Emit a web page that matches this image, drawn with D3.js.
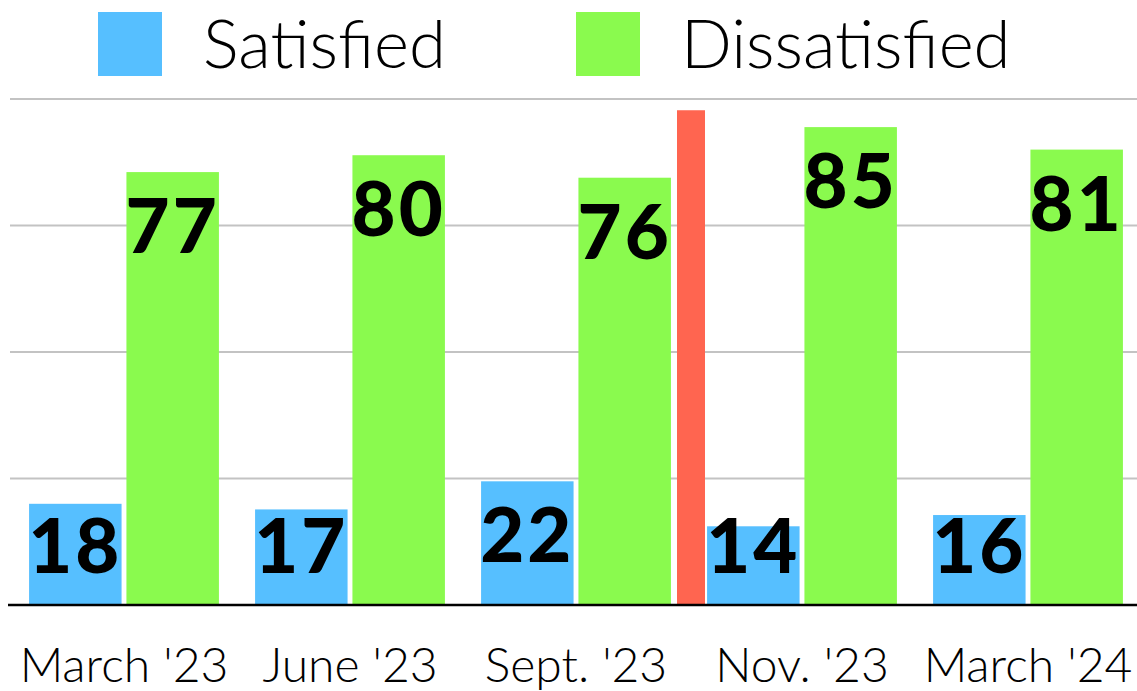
<!DOCTYPE html>
<html>
<head>
<meta charset="utf-8">
<script src="https://cdn.jsdelivr.net/npm/d3@7"></script>
<style>
  html, body { margin: 0; padding: 0; background: #fff; }
  svg { display: block; font-family: Lato, "Noto Sans", sans-serif; }
</style>
</head>
<body>
<svg id="chart" width="1137" height="691"></svg>
<script>
const periods = ["March '23", "June '23", "Sept. '23", "Nov. '23", "March '24"];
const satisfied = [18, 17, 22, 14, 16];
const dissatisfied = [77, 80, 76, 85, 81];
const seriesNames = ["Satisfied", "Dissatisfied"];
const seriesColors = ["#56bfff", "#8afa4e"];
const gridTicks = [0, 22.5, 45, 67.5, 90];
// red divider between Sept. '23 and Nov. '23
const markerAfter = "Sept. '23";
const markerValue = 88;

const width = 1137, height = 691;
const baseY = 605, topY = 99;
const svg = d3.select("#chart");

const x = d3.scaleBand()
  .domain(periods)
  .range([11, 1141])
  .paddingInner(0.16)
  .paddingOuter(0.08);

const xSub = d3.scaleBand()
  .domain(seriesNames)
  .range([0, x.bandwidth()])
  .paddingInner(0.05);

const y = d3.scaleLinear()
  .domain([0, 90])
  .range([baseY, topY]);

// gridlines
svg.append("g")
  .selectAll("line")
  .data(gridTicks.filter(d => d > 0))
  .enter()
  .append("line")
  .attr("x1", 10)
  .attr("x2", width)
  .attr("y1", d => y(d))
  .attr("y2", d => y(d))
  .attr("stroke", "#c3c3c3")
  .attr("stroke-width", 2);

const rows = periods.map((p, i) => ({ period: p, values: [satisfied[i], dissatisfied[i]] }));

const groups = svg.append("g")
  .selectAll("g")
  .data(rows)
  .enter()
  .append("g")
  .attr("transform", d => `translate(${x(d.period)},0)`);

groups.selectAll("rect")
  .data(d => d.values.map((v, k) => ({ name: seriesNames[k], value: v, k })))
  .enter()
  .append("rect")
  .attr("x", d => xSub(d.name))
  .attr("y", d => y(d.value))
  .attr("width", xSub.bandwidth())
  .attr("height", d => baseY - y(d.value))
  .attr("fill", d => seriesColors[d.k]);

// value labels, pinned inside the bar top but not below a floor
groups.selectAll("text")
  .data(d => d.values.map((v, k) => ({ name: seriesNames[k], value: v })))
  .enter()
  .append("text")
  .attr("x", d => xSub(d.name) + xSub.bandwidth() / 2)
  .attr("y", d => Math.min(y(d.value) + 81, baseY - 32))
  .attr("text-anchor", "middle")
  .attr("font-size", 76)
  .attr("font-weight", 900)
  .attr("letter-spacing", 3)
  .attr("fill", "#000")
  .text(d => d.value);

// red divider
const idx = periods.indexOf(markerAfter);
const mx = (x(periods[idx]) + x.bandwidth() + x(periods[idx + 1])) / 2 + 2;
svg.append("rect")
  .attr("x", mx - 14)
  .attr("y", y(markerValue))
  .attr("width", 28)
  .attr("height", baseY - y(markerValue) + 1)
  .attr("fill", "#ff6550");

// baseline
svg.append("line")
  .attr("x1", 8)
  .attr("x2", width)
  .attr("y1", baseY)
  .attr("y2", baseY)
  .attr("stroke", "#000")
  .attr("stroke-width", 2.5);

// x axis labels
svg.append("g")
  .selectAll("text")
  .data(periods)
  .enter()
  .append("text")
  .attr("x", d => x(d) + x.bandwidth() / 2)
  .attr("y", 682)
  .attr("text-anchor", "middle")
  .attr("font-size", 48)
  .attr("font-weight", 300)
  .attr("fill", "#000")
  .text(d => d);

// legend
const legendX = [98, 576];
const legend = svg.append("g")
  .selectAll("g")
  .data(seriesNames)
  .enter()
  .append("g")
  .attr("transform", (d, i) => `translate(${legendX[i]},12)`);

legend.append("rect")
  .attr("width", 64)
  .attr("height", 64)
  .attr("fill", (d, i) => seriesColors[i]);

legend.append("text")
  .attr("x", 105)
  .attr("y", 56)
  .attr("font-size", 67)
  .attr("font-weight", 300)
  .attr("fill", "#000")
  .text(d => d);
</script>
</body>
</html>
